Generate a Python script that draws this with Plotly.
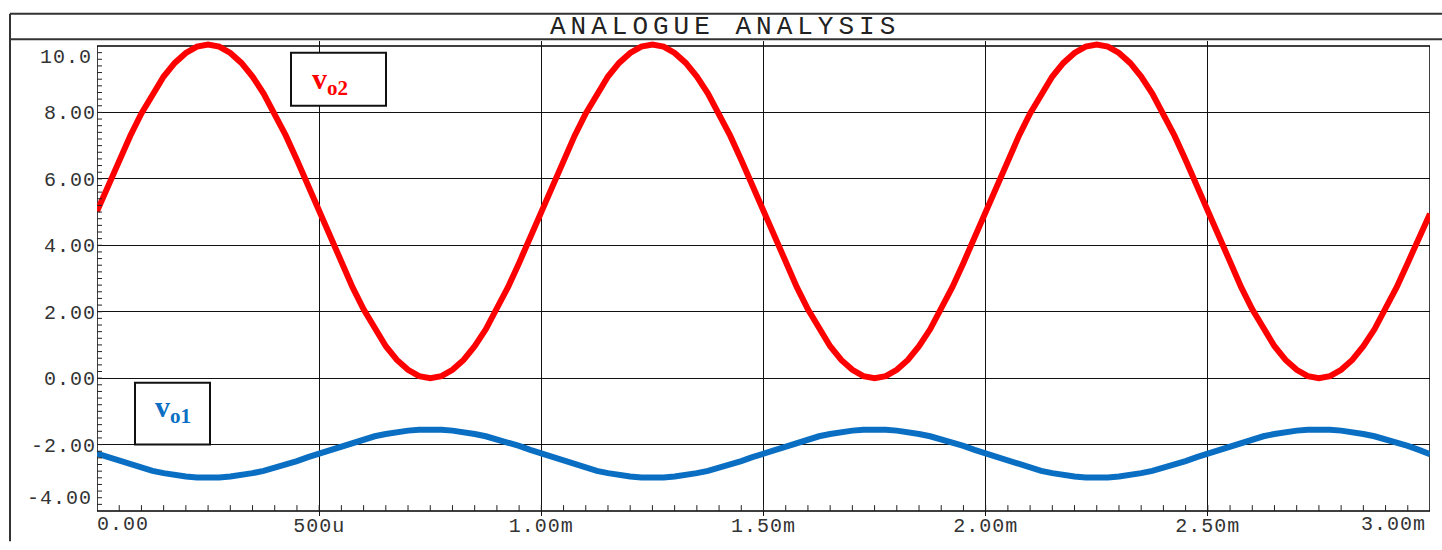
import plotly.graph_objects as go

# ---- data (time in ms, sampled every 25 us) ----
time_ms = [
    0.000, 0.025, 0.050, 0.075, 0.100, 0.125, 0.150, 0.175, 0.200, 0.225,
    0.250, 0.275, 0.300, 0.325, 0.350, 0.375, 0.400, 0.425, 0.450, 0.475,
    0.500, 0.525, 0.550, 0.575, 0.600, 0.625, 0.650, 0.675, 0.700, 0.725,
    0.750, 0.775, 0.800, 0.825, 0.850, 0.875, 0.900, 0.925, 0.950, 0.975,
    1.000, 1.025, 1.050, 1.075, 1.100, 1.125, 1.150, 1.175, 1.200, 1.225,
    1.250, 1.275, 1.300, 1.325, 1.350, 1.375, 1.400, 1.425, 1.450, 1.475,
    1.500, 1.525, 1.550, 1.575, 1.600, 1.625, 1.650, 1.675, 1.700, 1.725,
    1.750, 1.775, 1.800, 1.825, 1.850, 1.875, 1.900, 1.925, 1.950, 1.975,
    2.000, 2.025, 2.050, 2.075, 2.100, 2.125, 2.150, 2.175, 2.200, 2.225,
    2.250, 2.275, 2.300, 2.325, 2.350, 2.375, 2.400, 2.425, 2.450, 2.475,
    2.500, 2.525, 2.550, 2.575, 2.600, 2.625, 2.650, 2.675, 2.700, 2.725,
    2.750, 2.775, 2.800, 2.825, 2.850, 2.875, 2.900, 2.925, 2.950, 2.975,
    3.000]

vo2 = [
    5.02, 5.81, 6.57, 7.30, 7.97, 8.57, 9.08, 9.49, 9.79, 9.98,
    10.04, 9.98, 9.79, 9.49, 9.08, 8.57, 7.97, 7.30, 6.57, 5.81,
    5.02, 4.23, 3.47, 2.74, 2.07, 1.47, 0.96, 0.55, 0.25, 0.06,
    0.00, 0.06, 0.25, 0.55, 0.96, 1.47, 2.07, 2.74, 3.47, 4.23,
    5.02, 5.81, 6.57, 7.30, 7.97, 8.57, 9.08, 9.49, 9.79, 9.98,
    10.04, 9.98, 9.79, 9.49, 9.08, 8.57, 7.97, 7.30, 6.57, 5.81,
    5.02, 4.23, 3.47, 2.74, 2.07, 1.47, 0.96, 0.55, 0.25, 0.06,
    0.00, 0.06, 0.25, 0.55, 0.96, 1.47, 2.07, 2.74, 3.47, 4.23,
    5.02, 5.81, 6.57, 7.30, 7.97, 8.57, 9.08, 9.49, 9.79, 9.98,
    10.04, 9.98, 9.79, 9.49, 9.08, 8.57, 7.97, 7.30, 6.57, 5.81,
    5.02, 4.23, 3.47, 2.74, 2.07, 1.47, 0.96, 0.55, 0.25, 0.06,
    0.00, 0.06, 0.25, 0.55, 0.96, 1.47, 2.07, 2.74, 3.47, 4.23,
    4.95]

vo1 = [
    -2.27, -2.38, -2.50, -2.60, -2.70, -2.79, -2.86, -2.92, -2.96, -2.99,
    -3.00, -2.99, -2.96, -2.92, -2.86, -2.79, -2.70, -2.60, -2.50, -2.38,
    -2.27, -2.16, -2.04, -1.94, -1.84, -1.75, -1.68, -1.62, -1.58, -1.55,
    -1.54, -1.55, -1.58, -1.62, -1.68, -1.75, -1.84, -1.94, -2.04, -2.16,
    -2.27, -2.38, -2.50, -2.60, -2.70, -2.79, -2.86, -2.92, -2.96, -2.99,
    -3.00, -2.99, -2.96, -2.92, -2.86, -2.79, -2.70, -2.60, -2.50, -2.38,
    -2.27, -2.16, -2.04, -1.94, -1.84, -1.75, -1.68, -1.62, -1.58, -1.55,
    -1.54, -1.55, -1.58, -1.62, -1.68, -1.75, -1.84, -1.94, -2.04, -2.16,
    -2.27, -2.38, -2.50, -2.60, -2.70, -2.79, -2.86, -2.92, -2.96, -2.99,
    -3.00, -2.99, -2.96, -2.92, -2.86, -2.79, -2.70, -2.60, -2.50, -2.38,
    -2.27, -2.16, -2.04, -1.94, -1.84, -1.75, -1.68, -1.62, -1.58, -1.55,
    -1.54, -1.55, -1.58, -1.62, -1.68, -1.75, -1.84, -1.94, -2.04, -2.16,
    -2.29]

x_tickvals = [0.5, 1.0, 1.5, 2.0, 2.5]
x_ticktext = ["500u", "1.00m", "1.50m", "2.00m", "2.50m"]
x_edge_labels = ["0.00", "3.00m"]
y_tickvals = [-2, 0, 2, 4, 6, 8]
y_ticktext = ["-2.00", "0.00", "2.00", "4.00", "6.00", "8.00"]
y_edge_labels = ["10.0", "-4.00"]
title_text = "ANALOGUE ANALYSIS"

X_MIN, X_MAX = 0.0, 3.0
Y_MIN, Y_MAX = -4.0, 10.0
Y_PAD = 0.15  # extra room so the thick trace is not clipped at the frame
X_MINOR_N, Y_MINOR_N = 60, 70  # minor tick intervals across each axis

RED = "#FF0000"
BLUE = "#0A6FC2"
TICK_FONT = dict(family="Liberation Mono", size=20, color="#333333")


def spaced(s, px):
    return '<span style="letter-spacing:%spx">%s</span>' % (px, s)


fig = go.Figure()
fig.add_trace(go.Scatter(x=time_ms, y=vo2, mode="lines", name="vo2",
                         line=dict(color=RED, width=6), hoverinfo="skip"))
fig.add_trace(go.Scatter(x=time_ms, y=vo1, mode="lines", name="vo1",
                         line=dict(color=BLUE, width=6), hoverinfo="skip"))

# frame: x 97..1430 px, y(10)=46 px, y(-4)=521 px
PLOT_L, PLOT_R, PLOT_T, PLOT_B = 97, 1430, 46, 521
ppu = (PLOT_B - PLOT_T) / (Y_MAX - Y_MIN)
ppx = (PLOT_R - PLOT_L) / (X_MAX - X_MIN)
pad_px = Y_PAD * ppu
top_m = PLOT_T - pad_px
area_h = (PLOT_B - PLOT_T) + 2 * pad_px
bot_m = 550 - top_m - area_h
x_axis_pos = pad_px / area_h

fig.update_layout(
    width=1442, height=550,
    margin=dict(l=PLOT_L, r=1442 - PLOT_R, t=top_m, b=bot_m, pad=0),
    paper_bgcolor="white", plot_bgcolor="white",
    showlegend=False,
    xaxis=dict(range=[X_MIN, X_MAX], tickvals=x_tickvals,
               ticktext=[spaced(t, 1) for t in x_ticktext],
               tickfont=TICK_FONT, ticks="", showgrid=True, gridcolor="#111111",
               gridwidth=1, zeroline=False, showline=False,
               anchor="free", position=x_axis_pos),
    yaxis=dict(range=[Y_MIN - Y_PAD, Y_MAX + Y_PAD], tickvals=y_tickvals,
               ticktext=[spaced(t, 1) for t in y_ticktext],
               tickfont=TICK_FONT, ticks="", showgrid=True, gridcolor="#111111",
               gridwidth=1, zeroline=False, showline=False),
)


def px_x(px):
    return (px - PLOT_L) / (PLOT_R - PLOT_L)


def px_y(py):
    return 1 - (py - top_m) / area_h


# plot frame in data coordinates
fig.add_shape(type="rect", xref="x", yref="y", x0=X_MIN, x1=X_MAX,
              y0=Y_MIN, y1=Y_MAX, line=dict(color="#000000", width=1.5),
              layer="below")

# minor tick marks along the bottom and left frame edges
tick_line = dict(color="#222222", width=1)
for i in range(1, X_MINOR_N):
    xv = X_MIN + (X_MAX - X_MIN) * i / X_MINOR_N
    fig.add_shape(type="line", xref="x", yref="y", x0=xv, x1=xv,
                  y0=Y_MIN, y1=Y_MIN + 6 / ppu, line=tick_line, layer="above")
for i in range(1, Y_MINOR_N):
    yv = Y_MIN + (Y_MAX - Y_MIN) * i / Y_MINOR_N
    fig.add_shape(type="line", xref="x", yref="y", x0=X_MIN, x1=X_MIN + 5 / ppx,
                  y0=yv, y1=yv, line=tick_line, layer="above")

# outer frame of the analysis window
frame = dict(color="#333333", width=2)
fig.add_shape(type="line", xref="paper", yref="paper",
              x0=px_x(10), x1=px_x(1442), y0=px_y(13), y1=px_y(13), line=frame)
fig.add_shape(type="line", xref="paper", yref="paper",
              x0=px_x(10), x1=px_x(1442), y0=px_y(39), y1=px_y(39), line=frame)
fig.add_shape(type="line", xref="paper", yref="paper",
              x0=px_x(10), x1=px_x(10), y0=px_y(13), y1=px_y(552), line=frame)

# title
fig.add_annotation(text=spaced(title_text, 5), xref="paper", yref="paper",
                   x=px_x(725), y=px_y(27), showarrow=False,
                   xanchor="center", yanchor="middle",
                   font=dict(family="Liberation Mono", size=26, color="#222222"))

# edge tick labels
fig.add_annotation(text=spaced(x_edge_labels[0], 1), xref="paper", yref="paper",
                   x=px_x(95), y=px_y(535), showarrow=False,
                   xanchor="left", yanchor="middle", font=TICK_FONT)
fig.add_annotation(text=spaced(x_edge_labels[1], 1), xref="paper", yref="paper",
                   x=px_x(1428), y=px_y(535), showarrow=False,
                   xanchor="right", yanchor="middle", font=TICK_FONT)
fig.add_annotation(text=spaced(y_edge_labels[0], 1), xref="paper", yref="paper",
                   x=px_x(94), y=px_y(58), showarrow=False,
                   xanchor="right", yanchor="middle", font=TICK_FONT)
fig.add_annotation(text=spaced(y_edge_labels[1], 1), xref="paper", yref="paper",
                   x=px_x(94), y=px_y(508), showarrow=False,
                   xanchor="right", yanchor="middle", font=TICK_FONT)

# label boxes
box = dict(color="#111111", width=2)
fig.add_shape(type="rect", xref="paper", yref="paper",
              x0=px_x(291), x1=px_x(386), y0=px_y(53), y1=px_y(107),
              line=box, fillcolor="white", layer="above")
fig.add_annotation(text="v<sub>o2</sub>", xref="paper", yref="paper",
                   x=px_x(330), y=px_y(82), showarrow=False,
                   xanchor="center", yanchor="middle",
                   font=dict(family="Liberation Serif", size=30, color=RED, weight="bold"))
fig.add_shape(type="rect", xref="paper", yref="paper",
              x0=px_x(135), x1=px_x(210), y0=px_y(390), y1=px_y(453),
              line=box, fillcolor="white", layer="above")
fig.add_annotation(text="v<sub>o1</sub>", xref="paper", yref="paper",
                   x=px_x(173), y=px_y(417), showarrow=False,
                   xanchor="center", yanchor="middle",
                   font=dict(family="Liberation Serif", size=30, color=BLUE, weight="bold"))

fig.write_html("out.html", config={"displayModeBar": False},
               post_script="document.body.style.margin='0';")
